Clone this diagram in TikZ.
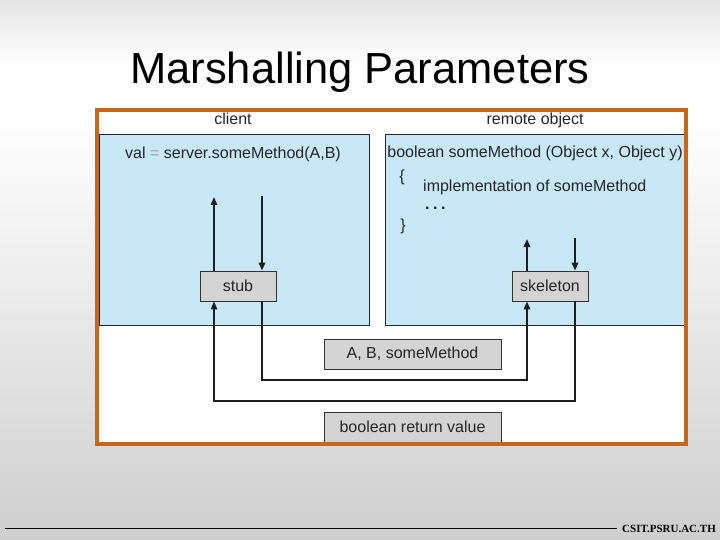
\documentclass[tikz,border=0pt]{standalone}
\usepackage{fontspec}
\setmainfont{Liberation Sans}
\newfontfamily\footfont{Liberation Serif}
\usetikzlibrary{arrows.meta}
\definecolor{panelblue}{RGB}{200,231,247}
\definecolor{boxgray}{RGB}{212,212,212}
\definecolor{frameorange}{RGB}{196,104,30}
\definecolor{inkdark}{RGB}{30,30,30}
\definecolor{bgbot}{RGB}{206,206,206}
\definecolor{bgmid}{RGB}{218,218,218}
\definecolor{bgtop}{RGB}{228,228,228}
\pgfdeclareverticalshading{slidebg}{100bp}{color(0bp)=(bgbot); color(25bp)=(bgbot); color(34bp)=(bgmid); color(64bp)=(white); color(69bp)=(white); color(75bp)=(bgtop); color(100bp)=(bgtop)}
\begin{document}
\begin{tikzpicture}[x=1pt,y=-1pt,
  lbl/.style={font=\fontsize{16}{19}\selectfont, inner sep=0pt, text=black!85},
  graybox/.style={draw=black!80, line width=0.9pt, fill=boxgray, inner sep=0pt,
    minimum height=30pt, font=\fontsize{16}{19}\selectfont, text=black!85},
  panel/.style={draw=black!85, line width=0.8pt, fill=panelblue},
  conn/.style={line width=1.8pt, draw=inkdark, -{Triangle[length=8pt,width=6.5pt]}}
]
\useasboundingbox (0,0) rectangle (720,540);
% background
\shade[shading=slidebg] (0,0) rectangle (720,540);
% title
\node[anchor=base, inner sep=0pt, font=\fontsize{43.5}{50}\selectfont] (title) at (360,84) {Marshalling Parameters};
% frame
\fill[white] (97,110) rectangle (686,444);
% panels
\draw[panel] (99,134) rectangle (369,325);
\draw[panel] (385,134) rectangle (684,325);
% headers
\node[lbl, anchor=base] (client) at (233,125) {client};
\node[lbl, anchor=base] (remote) at (535,125) {remote object};
% panel texts
\node[lbl, anchor=base] (call) at (233,159) {val {\color{black!35}=} server.someMethod(A,B)};
\node[lbl, anchor=base] (sig) at (535,158) {boolean someMethod (Object x, Object y)};
\node[lbl, anchor=base] (lbrace) at (402,182) {\{};
\node[lbl, anchor=base west] (impl) at (423,192) {implementation of someMethod};
\node[lbl, anchor=base west] (dots) at (425,210) {\bfseries .\hspace{3.5pt}.\hspace{3.5pt}.};
\node[lbl, anchor=base] (rbrace) at (403,230) {\}};
% boxes
\node[graybox, minimum width=76pt] (stub) at (238,286) {stub};
\node[graybox, minimum width=76pt] (skel) at (550,286) {skeleton};
\node[graybox, minimum width=177pt] (args) at (412.5,354) {A, B, someMethod};
\node[graybox, minimum width=177pt] (ret) at (412.5,427) {boolean return value};
% connector coordinates
\coordinate (stubUp) at (214,197);
\coordinate (stubDown) at (262,196);
\coordinate (skelUp) at (527,239);
\coordinate (skelDown) at (575,238);
\coordinate (sendY) at (400,380);
\coordinate (retY) at (400,401);
% connectors
\draw[conn] (stub.north -| stubUp) -- (stubUp);
\draw[conn] (stubDown) -- (stub.north -| stubDown);
\draw[conn] (skel.north -| skelUp) -- (skelUp);
\draw[conn] (skelDown) -- (skel.north -| skelDown);
\draw[conn] (stub.south -| stubDown) |- (sendY) -| (skel.south -| skelUp);
\draw[conn, line width=1.6pt] (skel.south -| skelDown) |- (retY) -| (stub.south -| stubUp);
% frame stroke
\draw[line width=4pt, draw=frameorange] (97,110) rectangle (686,444);
% footer
\coordinate (footL) at (5,528);
\node[anchor=base west, inner sep=0pt, font=\footfont\bfseries\fontsize{11}{13}\selectfont] (foot) at (622,532) {CSIT.PSRU.AC.TH};
\coordinate (footR) at ([xshift=-5pt]foot.west |- footL);
\draw[line width=0.9pt] (footL) -- (footR);
\end{tikzpicture}
\end{document}
